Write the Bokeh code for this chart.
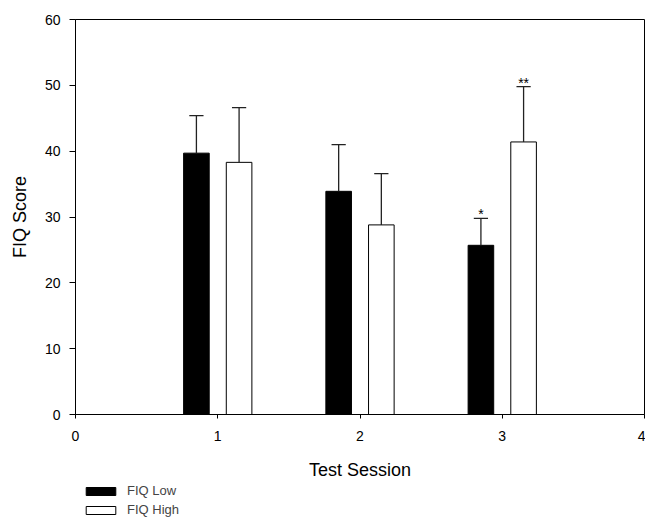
import numpy as np
from bokeh.plotting import figure
from bokeh.layouts import column
from bokeh.models import ColumnDataSource, Legend, LegendItem, FixedTicker, Range1d
from bokeh.transform import dodge
from bokeh.core.properties import value
from bokeh.embed import file_html
from bokeh.resources import INLINE

# Data
sessions = [1, 2, 3]
low_mean = [39.7, 33.9, 25.7]
low_upper = [45.4, 41.0, 29.8]
high_mean = [38.3, 28.8, 41.4]
high_upper = [46.6, 36.6, 49.8]
low_marks = ["", "", "*"]
high_marks = ["", "", "**"]
x_ticks = [0, 1, 2, 3, 4]
y_ticks = [0, 10, 20, 30, 40, 50, 60]
series_labels = ["FIQ Low", "FIQ High"]

FONT = "Liberation Sans"
OFF = 0.15
BW = 0.18
CAP = 0.05

src = ColumnDataSource(dict(session=sessions, low_mean=low_mean, low_upper=low_upper,
                            high_mean=high_mean, high_upper=high_upper,
                            low_marks=low_marks, high_marks=high_marks))

p = figure(width=645, height=483, output_backend="svg", toolbar_location=None,
           x_range=Range1d(0, 4), y_range=Range1d(0, 60),
           min_border_left=75, min_border_right=1, min_border_top=19, min_border_bottom=69)

p.xgrid.visible = False
p.ygrid.visible = False
p.outline_line_color = "black"
p.outline_line_width = 1
p.background_fill_color = "white"
p.border_fill_color = "white"

low_r = p.vbar(x=dodge("session", -OFF), top="low_mean", width=BW, bottom=0, source=src,
               fill_color="black", line_color="black", line_width=1)
high_r = p.vbar(x=dodge("session", OFF), top="high_mean", width=BW, bottom=0, source=src,
                fill_color="white", line_color="black", line_width=1)

# error bars (upper only)
for off, m, u in [(-OFF, "low_mean", "low_upper"), (OFF, "high_mean", "high_upper")]:
    p.segment(x0=dodge("session", off), y0=m, x1=dodge("session", off), y1=u, source=src,
              line_color="#222222", line_width=1.3)
    p.segment(x0=dodge("session", off - CAP), y0=u, x1=dodge("session", off + CAP), y1=u,
              source=src, line_color="#222222", line_width=1.3)

# significance marks
p.text(x=dodge("session", -OFF), y="low_upper", text="low_marks", source=src,
       text_align="center", text_baseline="alphabetic", y_offset=-4,
       text_font=value(FONT), text_font_size="14px", text_color="black")
p.text(x=dodge("session", OFF), y="high_upper", text="high_marks", source=src,
       text_align="center", text_baseline="alphabetic", y_offset=-4,
       text_font=value(FONT), text_font_size="14px", text_color="black")

# axes
p.xaxis.ticker = FixedTicker(ticks=x_ticks)
p.yaxis.ticker = FixedTicker(ticks=y_ticks)
for ax in (p.xaxis[0], p.yaxis[0]):
    ax.axis_line_color = "black"
    ax.major_tick_line_color = "black"
    ax.minor_tick_line_color = None
    ax.major_tick_in = 0
    ax.major_label_text_font = FONT
    ax.major_label_text_font_size = "14px"
    ax.major_label_text_color = "black"
    ax.axis_label_text_font = FONT
    ax.axis_label_text_font_size = "18px"
    ax.axis_label_text_font_style = "normal"
    ax.axis_label_text_color = "black"

p.xaxis.major_tick_out = 4
p.xaxis.major_label_standoff = 12
p.xaxis.axis_label = "Test Session"
p.xaxis.axis_label_standoff = 16

p.yaxis.major_tick_out = 6
p.yaxis.major_label_standoff = 9
p.yaxis.axis_label = "FIQ Score"
p.yaxis.axis_label_standoff = 12

# legend strip below the chart
lg = figure(width=645, height=34, output_backend="svg", toolbar_location=None,
            x_range=Range1d(0, 1), y_range=Range1d(0, 1),
            min_border_left=0, min_border_right=0, min_border_top=0, min_border_bottom=0)
lg.axis.visible = False
lg.xgrid.visible = False
lg.ygrid.visible = False
lg.outline_line_color = None
# empty (NaN) proxies: only their legend glyphs are seen
proxy = ColumnDataSource(dict(x=np.array([np.nan]), top=np.array([np.nan])))
lg_low = lg.vbar(x="x", top="top", width=0.1, source=proxy,
                 fill_color="black", line_color="black", line_width=1)
lg_high = lg.vbar(x="x", top="top", width=0.1, source=proxy,
                  fill_color="white", line_color="black", line_width=1)
legend = Legend(items=[LegendItem(label=series_labels[0], renderers=[lg_low]),
                       LegendItem(label=series_labels[1], renderers=[lg_high])],
                location=(7, 0), orientation="vertical",
                glyph_width=37, glyph_height=10, label_height=15, spacing=4,
                label_standoff=8, padding=0, margin=0,
                label_text_font=FONT, label_text_font_size="13px",
                border_line_alpha=0, background_fill_alpha=0)
lg.add_layout(legend, "center")

layout = column(p, lg, spacing=0)
open("out.html", "w").write(file_html(layout, INLINE))
